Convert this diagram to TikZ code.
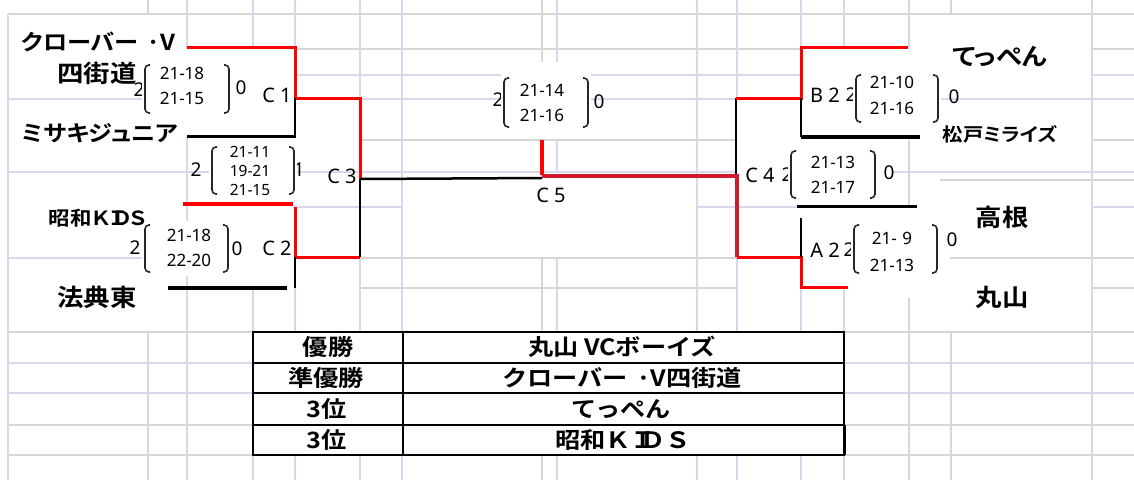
\documentclass[tikz,border=0pt]{standalone}
\usepackage{fontspec}
\newfontfamily\jpn{Noto Sans CJK JP Bold}[FakeStretch=1.1,RawFeature=+palt]
\newfontfamily\jpbw{Noto Sans CJK JP Bold}[FakeStretch=1.12]
\newfontfamily\nums{Noto Sans}
\definecolor{lav}{RGB}{218,214,238}
\definecolor{gry}{RGB}{214,214,214}
\definecolor{dred}{RGB}{205,28,45}
\newcommand\brpair[4]{%
  \fill[white] (#1-3,#3-4) rectangle (#2+3,#4+4);
  \draw[brk] (#1+5,#3) -- (#1,#3) -- (#1,#4) -- (#1+5,#4);
  \draw[brk] (#2-5,#3) -- (#2,#3) -- (#2,#4) -- (#2-5,#4);}
\begin{document}
\begin{tikzpicture}[x=1pt,y=-1pt,
  gl/.style={draw=lav,line width=2.4pt},
  gg/.style={draw=gry,line width=1.8pt},
  bl/.style={draw=black,line width=1.2pt},
  bm/.style={draw=black,line width=3pt},
  bt/.style={draw=black,line width=4pt},
  rl/.style={draw=red,line width=3pt},
  rt/.style={draw=red,line width=4pt},
  drl/.style={draw=dred,line width=4pt},
  brk/.style={draw=black!85,line width=1.6pt,rounded corners=4pt},
  nm/.style={font=\jpn\fontsize{24}{28}\selectfont,inner sep=0pt},
  nmk/.style={font=\jpn\fontsize{22}{26}\selectfont,inner sep=0pt},
  nms/.style={font=\jpn\fontsize{18.5}{22}\selectfont,inner sep=0pt},
  sc/.style={font=\nums\fontsize{17}{20}\selectfont,inner sep=0pt},
  scs/.style={font=\nums\fontsize{15.5}{18}\selectfont,inner sep=0pt},
  gm/.style={font=\nums\fontsize{19}{22}\selectfont,inner sep=0pt},
  lb/.style={font=\nums\fontsize{20}{24}\selectfont,inner sep=0pt},
  tb/.style={font=\jpbw\fontsize{22.5}{26}\selectfont,inner sep=0pt}
]
\fill[white] (0,0) rectangle (1134,480);
\useasboundingbox (0,0) rectangle (1134,480);
% ---------- spreadsheet grid ----------
\foreach \y/\a/\b in {14/8/1134, 49/295/800, 49/1092/1134, 140/360/736, 140/1092/1134,
  180/940/1134, 258/360/736, 258/950/1134, 288/360/736, 288/1092/1134,
  332/8/1134, 425/8/1134, 455/8/1134}
  \draw[gg] (\a,\y) -- (\b,\y);
\foreach \y/\a/\b in {75/295/800, 75/1092/1134, 99/8/186, 99/360/736, 99/940/1134,
  172/8/213, 172/293/736, 172/893/1134, 207/293/403, 207/697/797, 207/1092/1134,
  258/8/143, 363/8/1134, 393/8/1134}
  \draw[gl] (\a,\y) -- (\b,\y);
\foreach \x/\a/\b in {8/14/480, 148/332/480, 187/0/48, 187/137/480, 253/0/48, 253/288/480,
  295/0/47, 295/288/332, 295/455/480, 360/0/480, 402/0/480, 557/0/62, 557/140/172,
  557/258/480, 697/0/480, 737/0/98, 737/257/480, 801/0/47, 801/287/480,
  844/0/47, 844/287/480, 1092/0/480}
  \draw[gl] (\x,\a) -- (\x,\b);
\foreach \x/\a/\b in {148/0/14, 542/0/62, 542/258/480, 909/0/47, 909/140/207,
  909/298/480, 951/0/14, 951/332/480}
  \draw[gg] (\x,\a) -- (\x,\b);
% ---------- bracket lines ----------
\coordinate (c1a) at (187,47);  \coordinate (c1b) at (295,47);
\coordinate (c1c) at (295,98);  \coordinate (c1d) at (360,98);
\coordinate (c3j) at (360,179); \coordinate (c1e) at (295,136);
\coordinate (c1f) at (187,136);
\draw[rl] (c1a) -- (c1b) -- (c1c) -- (c1d) -- (c3j);
\draw[bl] (c1c) -- (c1e);
\draw[bm] (c1f) -- ([xshift=1pt]c1e);
\coordinate (c2a) at (183,204); \coordinate (c2b) at (293,204);
\coordinate (c2c) at (295,207); \coordinate (c2d) at (295,257);
\coordinate (c2e) at (360,257); \coordinate (c2f) at (295,288);
\coordinate (c2g) at (168,288); \coordinate (c2h) at (287,288);
\draw[rt] (c2a) -- (c2b);
\draw[rl] (c2c) -- (c2d) -- (c2e);
\draw[bl] (c2d) -- (c2f);
\draw[bt] (c2g) -- (c2h);
\draw[bl] (c3j) -- (c2e);
\coordinate (c5a) at (542,178);
\draw[draw=black,line width=2.5pt] (c3j) -- (c5a);
\coordinate (c5t) at (542,140); \coordinate (c5b) at (542,176);
\coordinate (c4j) at (737,176); \coordinate (a0) at (737,257);
\draw[rt] (c5t) -- ([yshift=1pt]c5b);
\draw[drl] (c5b) -- (c4j) -- (a0);
\coordinate (a1) at (801,257); \coordinate (a2) at (801,287);
\coordinate (a3) at (848,287);
\draw[rl] (a0) -- (a1) -- (a2) -- (a3);
\coordinate (b0) at (736,98); \coordinate (b1) at (801,98);
\coordinate (b2) at (801,47); \coordinate (b3) at (908,47);
\coordinate (b4) at (801,137); \coordinate (b5) at (920,137);
\draw[bl] (b0) -- (736,174);
\draw[rl] (b0) -- (b1) -- (b2) -- (b3);
\draw[bl] (b1) -- (b4);
\draw[bt] (b4) -- (b5);
\coordinate (t0) at (797,206); \coordinate (t1) at (917,206);
\coordinate (t2) at (801,218);
\draw[bm] (t0) -- (t1);
\draw[bl] (t2) -- (a1);
% ---------- side numbers (partly under boxes) ----------
\node[gm] (g1) at (139,90) {2};
\node[gm] (g3) at (196,170) {2};
\node[gm] (g3r) at (299,170) {1};
\node[gm] (g2) at (135,248) {2};
\node[gm] (g5) at (498,100) {2};
\node[gm] (gb) at (851,95) {2};
\node[gm] (gc4) at (787,175) {2};
\node[gm] (ga) at (849,250) {2};
% ---------- score boxes ----------
\brpair{145}{229}{65}{113}
\brpair{212}{294}{147}{194}
\brpair{145}{228}{225}{272}
\fill[white] (540,127) rectangle (594,139);
\brpair{504}{588}{78}{127}
\brpair{856}{938}{75}{122}
\brpair{791}{875}{151}{198}
\brpair{854}{937}{225}{273}
% ---------- scores ----------
\node[sc] (s1a) at (182,73) {21-18};
\node[sc] (s1b) at (182,98) {21-15};
\node[gm] (z1) at (241,88) {0};
\node[lb] (l1) at (277,95) {C 1};
\node[scs] (s3a) at (250,152) {21-11};
\node[scs] (s3b) at (250,171) {19-21};
\node[scs] (s3c) at (250,190) {21-15};
\node[lb] (l3) at (342,176) {C 3};
\node[sc] (s2a) at (189,235) {21-18};
\node[sc] (s2b) at (189,260) {22-20};
\node[gm] (z2) at (237,249) {0};
\node[lb] (l2) at (277,248) {C 2};
\node[sc] (s5a) at (542,90) {21-14};
\node[sc] (s5b) at (542,115) {21-16};
\node[gm] (z5) at (599,102) {0};
\node[lb] (l5) at (551,195) {C 5};
\node[lb] (lb1) at (825,95) {B 2};
\node[sc] (sba) at (892,82) {21-10};
\node[sc] (sbb) at (892,108) {21-16};
\node[gm] (zb) at (954,97) {0};
\node[lb] (l4) at (760,175) {C 4};
\node[sc] (s4a) at (833,162) {21-13};
\node[sc] (s4b) at (833,187) {21-17};
\node[gm] (z4) at (889,173) {0};
\node[lb] (la1) at (825,250) {A 2};
\node[sc] (saa) at (892,238) {21-\,\,9};
\node[sc] (sab) at (892,265) {21-13};
\node[gm] (za) at (952,240) {0};
% ---------- team names ----------
\node[nmk,anchor=west] (n1) at (21,42) {クローバー\hspace{0.4em}·V};
\node[nm] (n2) at (97,73) {四街道};
\node[nmk] (n3) at (100,133) {ミサキジュニア};
\node[nms,font=\jpn\fontsize{19.5}{23}\selectfont] (n4) at (98,218) {昭和ＫＩ\kern-0.7emＤＳ};
\node[nm] (n5) at (97,297) {法典東};
\node[nm] (n6) at (1000,57) {てっぺん};
\node[nms] (n7) at (1000,134) {松戸ミライズ};
\node[nm] (n8) at (1002,217) {高根};
\node[nm] (n9) at (1002,297) {丸山};
% ---------- result table ----------
\fill[white] (253,332) rectangle (844,455);
\draw[line width=1.5pt] (253,332) rectangle (844,455);
\foreach \y in {363,393,425} \draw[line width=1.4pt] (253,\y) -- (844,\y);
\draw[line width=1.4pt] (403,332) -- (403,455);
\draw[line width=3pt] (844,425) -- (844,455);
\node[tb] (r1a) at (328,347) {優勝};
\node[tb] (r1b) at (622,347) {丸山 VCボーイズ};
\node[tb] (r2a) at (326,378) {準優勝};
\node[tb] (r2b) at (622,378) {クローバー\hspace{0.4em}·V四街道};
\node[tb] (r3a) at (327,409) {3位};
\node[tb] (r3b) at (621,409) {てっぺん};
\node[tb] (r4a) at (327,440) {3位};
\node[tb] (r4b) at (623,440) {昭和ＫＩ\kern-0.7emＤＳ};
\end{tikzpicture}
\end{document}
